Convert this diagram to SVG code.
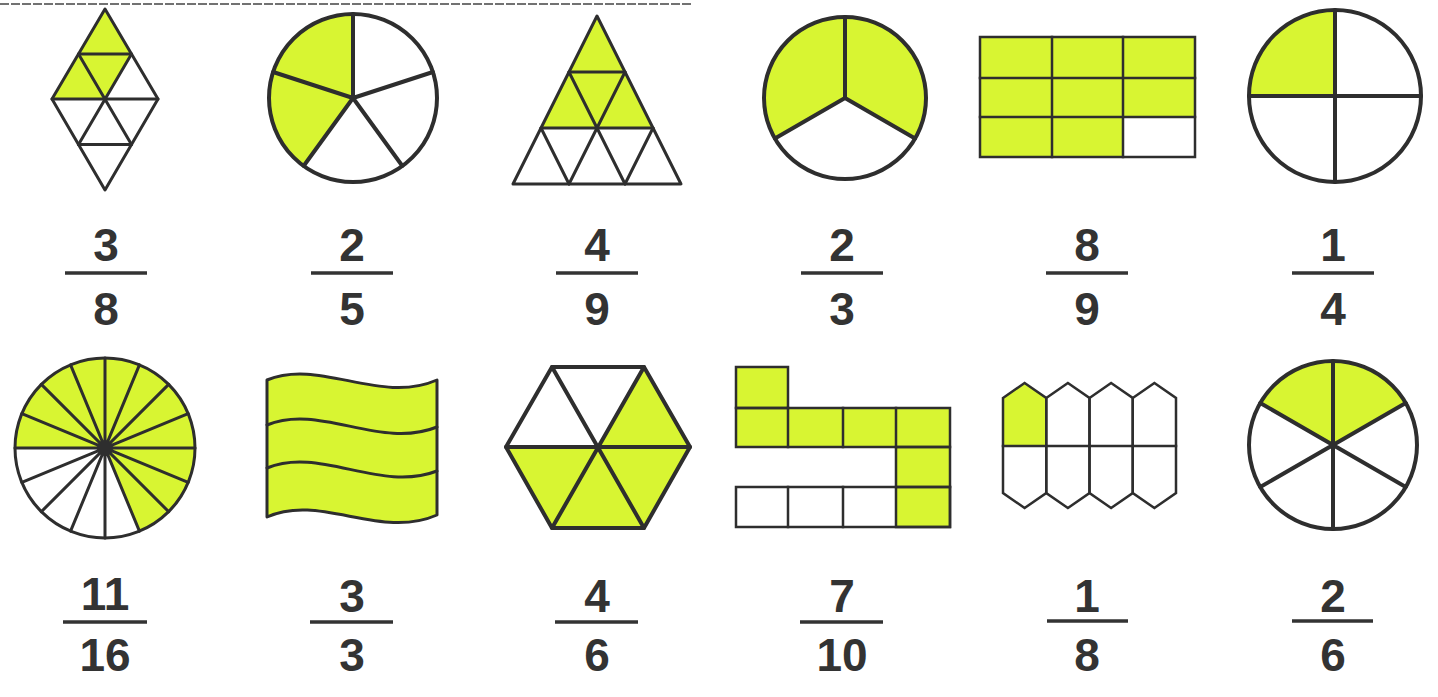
<svg xmlns="http://www.w3.org/2000/svg" width="1438" height="697" viewBox="0 0 1438 697">
<style>
.bg{fill:#ffffff}
.hl{fill:#d8f532;stroke:none}
.thick{fill:none;stroke:#2e2e2e;stroke-width:4;stroke-linejoin:round;stroke-linecap:round}
.mid{fill:none;stroke:#2e2e2e;stroke-width:3;stroke-linejoin:round;stroke-linecap:round}
.thin{fill:none;stroke:#2e2e2e;stroke-width:2.5;stroke-linejoin:miter;stroke-linecap:square}
.bar{stroke:#333;stroke-width:3.5}
.num{font-family:"Liberation Sans",Arial,sans-serif;font-weight:bold;font-size:46px;fill:#333;text-anchor:middle}
.edge{stroke:#444;stroke-width:2;stroke-dasharray:9 2;opacity:0.75}
</style>
<rect class="bg" x="0" y="0" width="1438" height="697"/>
<line class="edge" x1="0" y1="4" x2="693" y2="4"/>

<!-- Row 1 -->
<g id="diamond-3-8">
  <polygon class="hl" points="105,9 131.5,54 105,99 52,99"/>
  <polygon class="mid" points="105,9 158,99 105,190 52,99"/>
  <line class="mid" x1="78.5" y1="54" x2="131.5" y2="54"/>
  <line class="mid" x1="52" y1="99" x2="158" y2="99"/>
  <line class="mid" x1="78.5" y1="144.5" x2="131.5" y2="144.5"/>
  <line class="mid" x1="78.5" y1="54" x2="131.5" y2="144.5"/>
  <line class="mid" x1="131.5" y1="54" x2="78.5" y2="144.5"/>
</g>

<g id="circle-2-5">
  <path class="hl" d="M353,98 L303.6,166 A84,84 0 0 1 353,14 Z"/>
  <circle class="thick" cx="353" cy="98" r="84"/>
  <path class="thick" d="M353,98 L353,14 M353,98 L432.9,72 M353,98 L402.4,166 M353,98 L303.6,166 M353,98 L273.1,72"/>
</g>

<g id="triangle-4-9">
  <polygon class="hl" points="597,16 653,128 541,128"/>
  <polygon class="mid" points="597,16 681,184 513,184"/>
  <line class="mid" x1="569" y1="72" x2="625" y2="72"/>
  <line class="mid" x1="541" y1="128" x2="653" y2="128"/>
  <line class="mid" x1="569" y1="72" x2="625" y2="184"/>
  <line class="mid" x1="625" y1="72" x2="569" y2="184"/>
  <line class="mid" x1="541" y1="128" x2="569" y2="184"/>
  <line class="mid" x1="653" y1="128" x2="625" y2="184"/>
</g>

<g id="circle-2-3">
  <path class="hl" d="M845,98 L774.9,138.5 A81,81 0 1 1 915.1,138.5 Z"/>
  <circle class="thick" cx="845" cy="98" r="81"/>
  <path class="thick" d="M845,98 L845,17 M845,98 L774.9,138.5 M845,98 L915.1,138.5"/>
</g>

<g id="rect-8-9">
  <polygon class="hl" points="980,37 1195,37 1195,117 1123,117 1123,157 980,157"/>
  <rect class="thin" x="980" y="37" width="215" height="120"/>
  <path class="thin" d="M1052,37 V157 M1123,37 V157 M980,78 H1195 M980,117 H1195"/>
</g>

<g id="circle-1-4">
  <path class="hl" d="M1335,96 L1249,96 A86,86 0 0 1 1335,10 Z"/>
  <circle class="thick" cx="1335" cy="96" r="86"/>
  <path class="thick" d="M1335,10 V182 M1249,96 H1421"/>
</g>

<!-- Row 2 -->
<g id="circle-11-16">
  <path class="hl" d="M105,448 L15,448 A90,90 0 1 1 139.44,531.15 Z"/>
  <circle class="mid" cx="105" cy="448" r="90"/>
  <path class="mid" d="M15,448 L195,448 M21.85,413.56 L188.15,482.44 M41.36,384.36 L168.64,511.64 M70.56,364.85 L139.44,531.15 M105,358 L105,538 M139.44,364.85 L70.56,531.15 M168.64,384.36 L41.36,511.64 M188.15,413.56 L21.85,482.44"/>
</g>

<g id="flag-3-3">
  <path class="hl" d="M267,380 C320,358 380,405 437,380 L437,515 C380,540 320,493 267,517 Z"/>
  <path class="mid" d="M267,380 C320,358 380,405 437,380 L437,515 C380,540 320,493 267,517 Z"/>
  <path class="mid" d="M267,425 C320,403 380,450 437,427"/>
  <path class="mid" d="M267,468 C320,446 380,493 437,471"/>
</g>

<g id="hexagon-4-6">
  <polygon class="hl" points="598,447 644,367 690,447 644,528 552,528 506,447"/>
  <polygon class="thick" points="552,367 644,367 690,447 644,528 552,528 506,447"/>
  <path class="thick" d="M506,447 H690 M552,367 L644,528 M644,367 L552,528"/>
</g>

<g id="grid-7-10">
  <polygon class="hl" points="736,367 788,367 788,408 950,408 950,527 896,527 896,447 736,447"/>
  <rect class="thin" x="736" y="367" width="52" height="41"/>
  <rect class="thin" x="736" y="408" width="214" height="39"/>
  <path class="thin" d="M788,408 V447 M843,408 V447 M896,408 V447"/>
  <rect class="thin" x="896" y="447" width="54" height="80"/>
  <line class="thin" x1="896" y1="487" x2="950" y2="487"/>
  <rect class="thin" x="736" y="487" width="214" height="40"/>
  <path class="thin" d="M788,487 V527 M843,487 V527"/>
</g>

<g id="hexcols-1-8">
  <path class="hl" d="M1003,446 L1003,398 L1024.6,383 L1046.25,398 L1046.25,446 Z"/>
  <path class="thin" d="M1003,398 L1024.6,383 L1046.25,398 L1046.25,493 L1024.6,508 L1003,493 Z"/>
  <path class="thin" d="M1046.25,398 L1067.9,383 L1089.5,398 L1089.5,493 L1067.9,508 L1046.25,493 Z"/>
  <path class="thin" d="M1089.5,398 L1111.1,383 L1132.75,398 L1132.75,493 L1111.1,508 L1089.5,493 Z"/>
  <path class="thin" d="M1132.75,398 L1154.4,383 L1176,398 L1176,493 L1154.4,508 L1132.75,493 Z"/>
  <line class="thin" x1="1003" y1="446" x2="1176" y2="446"/>
</g>

<g id="circle-2-6">
  <path class="hl" d="M1333,445 L1260.25,403 A84,84 0 0 1 1405.75,403 Z"/>
  <circle class="thick" cx="1333" cy="445" r="84"/>
  <path class="thick" d="M1333,361 V529 M1260.25,403 L1405.75,487 M1405.75,403 L1260.25,487"/>
</g>

<!-- Fractions row 1 -->
<g id="frac-3-8"><text class="num" x="106" y="261">3</text><line class="bar" x1="65" y1="273" x2="147" y2="273"/><text class="num" x="106" y="325">8</text></g>
<g id="frac-2-5"><text class="num" x="352" y="261">2</text><line class="bar" x1="311" y1="273" x2="393" y2="273"/><text class="num" x="352" y="325">5</text></g>
<g id="frac-4-9"><text class="num" x="597" y="261">4</text><line class="bar" x1="556" y1="273" x2="638" y2="273"/><text class="num" x="597" y="325">9</text></g>
<g id="frac-2-3"><text class="num" x="842" y="261">2</text><line class="bar" x1="801" y1="273" x2="883" y2="273"/><text class="num" x="842" y="325">3</text></g>
<g id="frac-8-9"><text class="num" x="1087" y="261">8</text><line class="bar" x1="1046" y1="273" x2="1128" y2="273"/><text class="num" x="1087" y="325">9</text></g>
<g id="frac-1-4"><text class="num" x="1333" y="261">1</text><line class="bar" x1="1292" y1="273" x2="1374" y2="273"/><text class="num" x="1333" y="325">4</text></g>

<!-- Fractions row 2 -->
<g id="frac-11-16"><text class="num" x="105" y="610">11</text><line class="bar" x1="63" y1="622" x2="147" y2="622"/><text class="num" x="105" y="671">16</text></g>
<g id="frac-3-3"><text class="num" x="352" y="612">3</text><line class="bar" x1="310" y1="622" x2="393" y2="622"/><text class="num" x="352" y="671">3</text></g>
<g id="frac-4-6"><text class="num" x="597" y="612">4</text><line class="bar" x1="555" y1="622" x2="638" y2="622"/><text class="num" x="597" y="671">6</text></g>
<g id="frac-7-10"><text class="num" x="842" y="612">7</text><line class="bar" x1="800" y1="622" x2="883" y2="622"/><text class="num" x="842" y="671">10</text></g>
<g id="frac-1-8"><text class="num" x="1087" y="612">1</text><line class="bar" x1="1047" y1="621" x2="1128" y2="621"/><text class="num" x="1087" y="671">8</text></g>
<g id="frac-2-6"><text class="num" x="1333" y="612">2</text><line class="bar" x1="1292" y1="621" x2="1373" y2="621"/><text class="num" x="1333" y="671">6</text></g>
</svg>
